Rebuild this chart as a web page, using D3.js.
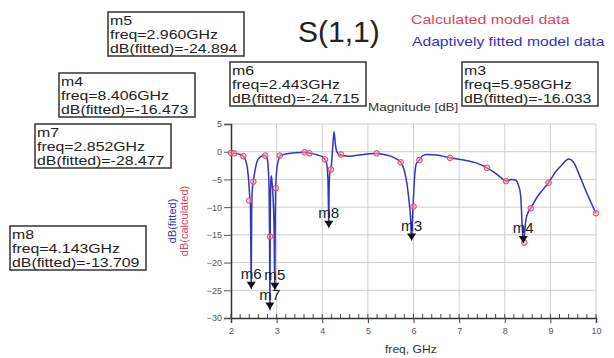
<!DOCTYPE html>
<html>
<head>
<meta charset="utf-8">
<script src="https://cdn.jsdelivr.net/npm/d3@7"></script>
<style>
  body { margin: 0; background: #fff; }
  svg { font-family: 'Liberation Sans', Arial, sans-serif; }
</style>
</head>
<body>
<svg id="chart" width="614" height="358"></svg>
<script>
// fitted curve (blue line)
const fitFreq = [2.00, 2.05, 2.10, 2.20, 2.27, 2.32, 2.36, 2.39, 2.41, 2.425, 2.435, 2.443, 2.452, 2.465, 2.49,
  2.53, 2.58, 2.65, 2.72, 2.77, 2.80, 2.82, 2.835, 2.845, 2.852, 2.862, 2.875, 2.885, 2.90, 2.92, 2.945, 2.96,
  2.97, 2.98, 3.00, 3.04, 3.08, 3.2, 3.4, 3.6, 3.75, 3.9, 4.0, 4.06, 4.10, 4.125, 4.135, 4.143, 4.152, 4.17,
  4.19, 4.21, 4.235, 4.26, 4.285, 4.32, 4.37, 4.45, 4.6, 4.8, 5.0, 5.19, 5.35, 5.5, 5.62, 5.72, 5.80, 5.86,
  5.91, 5.94, 5.958, 5.975, 5.99, 6.02, 6.06, 6.13, 6.20, 6.30, 6.50, 6.80, 7.10, 7.40, 7.61, 7.80, 7.95,
  8.03, 8.15, 8.23, 8.30, 8.35, 8.38, 8.406, 8.43, 8.46, 8.52, 8.57, 8.70, 8.85, 8.96, 9.10, 9.25, 9.40,
  9.50, 9.65, 9.80, 10.0]
const fitDb = [-0.2, -0.25, -0.3, -0.5, -0.8, -1.6, -3.0, -5.5, -8.0, -9, -17.5, -24.7, -12, -7, -5.4,
  -3.2, -1.6, -0.9, -0.7, -0.8, -1.5, -3.5, -7, -15, -28.5, -10, -5, -4.4, -5.5, -8, -14.5, -24.9,
  -12, -6.6, -3.5, -1.5, -0.7, -0.4, -0.2, -0.1, -0.3, -0.6, -0.9, -1.4, -2.3, -5, -9.5, -13.7, -6, -3.6,
  -3.2, -1.5, 1.5, 3.6, 1.5, 0, -0.5, -0.7, -0.8, -0.6, -0.4, -0.3, -0.5, -0.8, -1.3, -1.9, -3.4, -6,
  -9.5, -12.5, -16.0, -12.5, -9.9, -5, -2.2, -1.5, -0.7, -0.5, -0.6, -1.1, -1.5, -2.1, -2.9, -3.9, -4.9,
  -5.3, -5.0, -5.1, -6, -8, -13, -16.5, -15, -12.5, -10.8, -10.2, -8.3, -6.7, -5.6, -3.8, -2.4, -1.3,
  -1.8, -4.5, -7.5, -11.1]

// calculated samples (red circles)
const calcFreq = [2.0, 2.07, 2.27, 2.40, 2.49, 2.75, 2.855, 2.98, 3.07, 3.61, 3.72, 4.06, 4.19, 4.41,
  5.19, 5.72, 6.0, 6.13, 6.80, 7.61, 8.03, 8.43, 8.57, 8.96, 10.0]
const calcDb = [-0.2, -0.3, -0.8, -8.8, -5.4, -0.7, -15.3, -6.6, -0.7, -0.1, -0.3, -1.4, -3.2, -0.5,
  -0.3, -1.9, -9.9, -1.5, -1.1, -2.9, -5.3, -16.4, -10.2, -5.6, -11.1]

// markers
const markerNames = ['m3', 'm4', 'm5', 'm6', 'm7', 'm8']
const markerFreq = [5.958, 8.406, 2.960, 2.443, 2.852, 4.143]
const markerDb = [-16.033, -16.473, -24.894, -24.715, -28.477, -13.709]
const boxPos = [[462, 62], [59, 73], [108, 12], [230, 62], [35, 124], [10, 226]]

const xTicks = [2, 3, 4, 5, 6, 7, 8, 9, 10]
const yTicks = [5, 0, -5, -10, -15, -20, -25, -30]

const blue = '#3434c4'
const red = '#e0455a'

const svg = d3.select('#chart')

const x = d3.scaleLinear().domain([2, 10]).range([231, 596])
const y = d3.scaleLinear().domain([-30, 5]).range([318, 124])

// the source picture is stretched sideways, so widen glyphs a bit
function widen(sel, k) {
  sel.each(function () {
    const w = this.getComputedTextLength()
    d3.select(this).attr('textLength', w * k).attr('lengthAdjust', 'spacingAndGlyphs')
  })
}

// grid
const grid = svg.append('g').attr('stroke', '#cfcfcf').attr('stroke-width', 1)
grid.selectAll('.vg').data(xTicks.slice(1)).join('line')
  .attr('x1', (d) => x(d)).attr('x2', (d) => x(d))
  .attr('y1', y(5)).attr('y2', y(-30))
grid.selectAll('.hg').data(yTicks.slice(0, -1)).join('line')
  .attr('x1', x(2)).attr('x2', x(10))
  .attr('y1', (d) => y(d)).attr('y2', (d) => y(d))

// axes
const yAxis = svg.append('g')
  .attr('transform', `translate(${x(2)},0)`)
  .call(d3.axisLeft(y).tickValues(yTicks).tickSize(7).tickPadding(2))
yAxis.select('.domain').attr('stroke', '#333').attr('stroke-width', 1.5)
yAxis.selectAll('.tick line').attr('stroke', '#555')
yAxis.selectAll('text').attr('font-size', 9).attr('fill', '#555')

const xMinor = d3.range(2, 10.001, 0.2)
svg.append('g').attr('stroke', '#444')
  .selectAll('line').data(xMinor).join('line')
  .attr('x1', (d) => x(d)).attr('x2', (d) => x(d))
  .attr('y1', y(-30)).attr('y2', y(-30) - 4)

const xAxis = svg.append('g')
  .attr('transform', `translate(0,${y(-30)})`)
  .call(d3.axisBottom(x).tickValues(xTicks).tickSize(5).tickPadding(5))
xAxis.select('.domain').attr('stroke', '#333').attr('stroke-width', 1.5)
xAxis.selectAll('.tick line').attr('stroke', '#444')
xAxis.selectAll('text').attr('font-size', 9).attr('fill', '#555')

// fitted line
const line = d3.line()
  .x((d, i) => x(fitFreq[i]))
  .y((d) => y(d))
  .curve(d3.curveMonotoneX)
svg.append('path')
  .attr('d', line(fitDb))
  .attr('fill', 'none')
  .attr('stroke', blue)
  .attr('stroke-width', 1.5)

// calculated circles
svg.append('g')
  .selectAll('circle').data(calcDb).join('circle')
  .attr('cx', (d, i) => x(calcFreq[i]))
  .attr('cy', (d) => y(d))
  .attr('r', 2.8)
  .attr('fill', 'rgba(245,160,175,0.55)')
  .attr('stroke', red)
  .attr('stroke-width', 1)

// marker triangles + labels
const mk = svg.append('g')
mk.selectAll('path').data(markerDb).join('path')
  .attr('d', (d, i) => {
    const px = x(markerFreq[i]), py = y(d)
    return `M${px - 4.5},${py - 7}L${px + 4.5},${py - 7}L${px},${py}Z`
  })
  .attr('fill', '#111')
mk.selectAll('text').data(markerNames).join('text')
  .attr('x', (d, i) => x(markerFreq[i]))
  .attr('y', (d, i) => y(markerDb[i]) - 10)
  .attr('text-anchor', 'middle')
  .attr('font-size', 14)
  .attr('fill', '#222')
  .text((d) => d)
  .call(widen, 1.08)

// marker readout boxes
markerNames.forEach((name, i) => {
  const [bx, by] = boxPos[i]
  const g = svg.append('g').attr('transform', `translate(${bx},${by})`)
  g.append('rect')
    .attr('width', 136).attr('height', 44)
    .attr('fill', '#fff').attr('stroke', '#333').attr('stroke-width', 1.5)
  const lines = [name, `freq=${markerFreq[i].toFixed(3)}GHz`, `dB(fitted)=${markerDb[i].toFixed(3)}`]
  g.selectAll('text').data(lines).join('text')
    .attr('x', 2)
    .attr('y', (d, j) => 13 + j * 13.8)
    .attr('font-size', 13)
    .attr('fill', '#222')
    .text((d) => d)
    .call(widen, 1.22)
})

// titles and labels
svg.append('text').attr('x', 298).attr('y', 42)
  .attr('font-size', 30).attr('fill', '#222').text('S(1,1)')
svg.append('text').attr('x', 411).attr('y', 24)
  .attr('font-size', 13.5).attr('fill', red).text('Calculated model data')
  .call(widen, 1.18)
svg.append('text').attr('x', 412).attr('y', 46)
  .attr('font-size', 13.5).attr('fill', blue).text('Adaptively fitted model data')
  .call(widen, 1.16)
svg.append('text').attr('x', 368).attr('y', 111)
  .attr('font-size', 11).attr('fill', '#333').text('Magnitude [dB]')
  .call(widen, 1.22)
svg.append('text').attr('x', 385).attr('y', 353)
  .attr('font-size', 11).attr('fill', '#333').text('freq, GHz')
  .call(widen, 1.1)

svg.append('text')
  .attr('transform', 'translate(176,221) rotate(-90)')
  .attr('text-anchor', 'middle')
  .attr('font-size', 11).attr('fill', blue).text('dB(fitted)')
svg.append('text')
  .attr('transform', 'translate(188,221) rotate(-90)')
  .attr('text-anchor', 'middle')
  .attr('font-size', 11).attr('fill', red).text('dB(calculated)')
</script>
</body>
</html>
